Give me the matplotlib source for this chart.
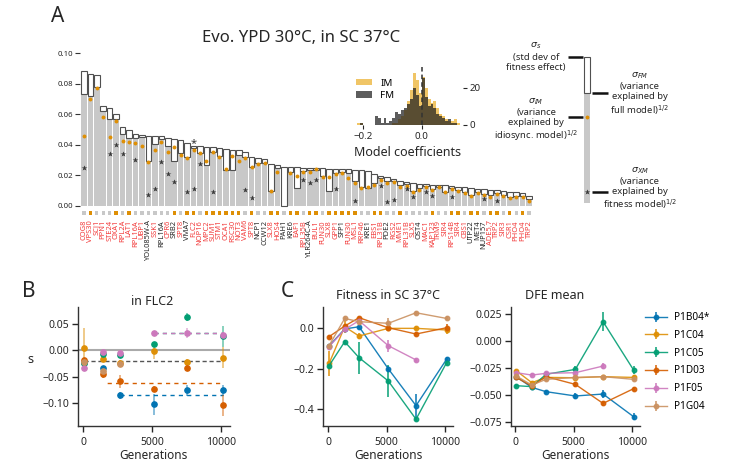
import numpy as np
import matplotlib
matplotlib.use("Agg")
import matplotlib.pyplot as plt
from matplotlib.colors import to_rgba
from matplotlib.patches import Patch

plt.rcParams["font.family"] = ["Noto Sans", "DejaVu Sans"]
plt.rcParams["mathtext.fontset"] = "dejavusans"

nan = np.nan

# ---------------- panel A: per-gene fitness-effect decomposition ----------------
genes = ["COG8", "VPS30", "SCJ1", "PPN1", "STE24", "OXA1", "RPL2A", "LAT1", "RPL16A", "UBP1",
         "YOL085W-A", "SSK1", "RPL16A", "CPR6", "SRB2", "SPT8", "VMA7", "FLC2", "NOP16", "MPC2",
         "SUM1", "STM1", "OCA1", "RSC30", "NOT3", "VAM6", "SPT8", "NCP1", "CCW12", "SLX8",
         "HOS4", "PAH1", "KRE6", "EAF1", "RPL35B", "YLR264C-A", "BUL1", "FUN30", "SLX8", "GPP1",
         "SFP1", "FUN30", "MSL1", "RRP46", "KRE1", "EBS1", "RPL31B", "PDE2", "RGS2", "MME1",
         "RPL31B", "SLX5", "OST4", "MAC1", "KAP123", "TRM9", "SIR4", "RPS14B", "SIR4", "CBS1",
         "UTP22", "MET4", "NUP157", "ADE5,7", "TRP2", "SIR3", "CSR1", "PHO4", "PHO4", "TRP2"]
black_label_idx = [10, 12, 14, 16, 27, 28, 31, 32, 35, 40, 44, 47, 52, 60, 61, 62]

sigma_s = [0.0885, 0.0863, 0.0858, 0.0656, 0.0643, 0.0599, 0.0514, 0.0495, 0.0468, 0.0462,
           0.0460, 0.0458, 0.0458, 0.0444, 0.0440, 0.0429, 0.0412, 0.0394, 0.0392, 0.0388,
           0.0386, 0.0379, 0.0373, 0.0368, 0.0366, 0.0351, 0.0322, 0.0314, 0.0305, 0.0275,
           0.0270, 0.0257, 0.0253, 0.0253, 0.0250, 0.0250, 0.0246, 0.0246, 0.0244, 0.0242,
           0.0240, 0.0240, 0.0235, 0.0235, 0.0231, 0.0207, 0.0195, 0.0190, 0.0175, 0.0165,
           0.0155, 0.0150, 0.0145, 0.0142, 0.0138, 0.0135, 0.0133, 0.0128, 0.0125, 0.0120,
           0.0118, 0.0113, 0.0110, 0.0105, 0.0102, 0.0098, 0.0093, 0.0088, 0.0082, 0.0065]
sigma_fm = [0.0730, 0.0720, 0.0780, 0.0620, 0.0569, 0.0569, 0.0468, 0.0442, 0.0447, 0.0449,
            0.0292, 0.0405, 0.0436, 0.0394, 0.0290, 0.0344, 0.0318, 0.0379, 0.0344, 0.0268,
            0.0355, 0.0327, 0.0235, 0.0235, 0.0333, 0.0322, 0.0257, 0.0279, 0.0279, 0.0098,
            0.0246, 0.0000, 0.0224, 0.0115, 0.0231, 0.0235, 0.0235, 0.0192, 0.0094, 0.0213,
            0.0224, 0.0213, 0.0159, 0.0126, 0.0115, 0.0148, 0.0180, 0.0160, 0.0160, 0.0135,
            0.0140, 0.0095, 0.0115, 0.0128, 0.0110, 0.0125, 0.0092, 0.0115, 0.0105, 0.0088,
            0.0070, 0.0088, 0.0078, 0.0068, 0.0085, 0.0072, 0.0058, 0.0065, 0.0065, 0.0045]
sigma_im = [0.0460, 0.0700, 0.0773, 0.0580, 0.0451, 0.0556, 0.0425, 0.0416, 0.0410, 0.0390,
            0.0285, 0.0366, 0.0420, 0.0350, 0.0388, 0.0333, 0.0312, 0.0362, 0.0346, 0.0294,
            0.0349, 0.0322, 0.0242, 0.0327, 0.0290, 0.0312, 0.0257, 0.0272, 0.0283, 0.0098,
            0.0220, nan, 0.0213, 0.0198, 0.0224, 0.0222, 0.0240, 0.0187, 0.0187, 0.0207,
            0.0213, 0.0180, 0.0148, 0.0118, 0.0126, 0.0137, 0.0166, 0.0148, 0.0155, 0.0126,
            0.0130, 0.0087, 0.0105, 0.0122, 0.0105, 0.0122, 0.0087, 0.0110, 0.0100, 0.0083,
            0.0065, 0.0083, 0.0070, 0.0060, 0.0078, 0.0065, 0.0050, 0.0057, 0.0057, 0.0030]
sigma_xm = [0.0250, nan, nan, nan, 0.0338, 0.0400, 0.0338, nan, 0.0300, nan,
            0.0070, 0.0110, 0.0285, 0.0211, 0.0155, nan, 0.0087, 0.0109, 0.0275, nan,
            0.0087, nan, nan, nan, nan, 0.0102, 0.0050, nan, nan, nan,
            nan, nan, nan, nan, 0.0166, 0.0150, 0.0168, nan, nan, 0.0109,
            nan, nan, 0.0030, nan, nan, nan, 0.0130, 0.0024, 0.0040, nan,
            0.0113, 0.0060, nan, 0.0090, 0.0065, nan, nan, 0.0057, nan, nan,
            nan, nan, 0.0042, nan, 0.0033, nan, nan, nan, nan, nan]
im_better = [0, 1, 0, 0, 0, 1, 0, 1, 0, 0, 0, 0, 0, 0, 1, 0, 1,
             1, 0, 1, 1, 1, 1, 1, 1, 0, 1,
             0, 0, 1, 1, 0, 1, 1, 0, 1, 1, 0, 1, 1, 1, 1, 1, 0, 0, 1,
             1, 0, 0, 1,
             0, 0, 0, 0, 1, 0, 0, 1, 1, 0, 1, 1, 0, 1, 1,
             0, 1, 0, 1, 0]
starred_gene = 17  # FLC2

# inset histogram of model coefficients
coef_edges = np.round(np.arange(-0.23, 0.145, 0.01), 2)
im_counts = [0, 1, 1, 0, 0, 0, 0, 0, 0, 0, 0, 0, 0, 1, 1, 3, 5, 8, 13, 19, 28, 24, 17,
             26, 20, 14, 12, 13, 9, 6, 5, 3, 2, 2, 3, 1, 0]
fm_counts = [0, 0, 1, 0, 0, 0, 0, 5, 4, 1, 4, 1, 2, 4, 7, 6, 8, 9, 11, 14, 20, 16, 10,
             25, 15, 10, 11, 9, 6, 5, 4, 2, 3, 1, 1, 0, 0]

# schematic legend bar
demo_s, demo_fm, demo_im, demo_xm = 0.0955, 0.0719, 0.0562, 0.0072

# ---------------- panels B, C: evolving populations ----------------
pops = ["P1B04*", "P1C04", "P1C05", "P1D03", "P1F05", "P1G04"]
pop_colors = ["#0173b2", "#de8f05", "#029e73", "#d55e00", "#cc78bc", "#ca9161"]
gens = [70, 1410, 2640, 5150, 7530, 10150]

flc2_s = [[-0.025, -0.033, -0.085, -0.102, -0.0756, -0.076],
          [0.004, -0.0175, -0.024, -0.002, -0.023, -0.014],
          [-0.025, -0.0075, -0.0094, 0.0106, 0.0625, 0.026],
          [-0.019, -0.045, -0.059, -0.0725, -0.033, -0.104],
          [-0.033, -0.003, -0.005, 0.033, 0.0325, 0.029],
          [-0.022, -0.040, -0.026, nan, nan, nan]]
flc2_err = [[0.004, 0.004, 0.007, 0.020, 0.010, 0.010],
            [0.038, 0.004, 0.006, 0.014, 0.006, 0.020],
            [0.004, 0.004, 0.004, 0.004, 0.007, 0.020],
            [0.004, 0.008, 0.012, 0.005, 0.005, 0.020],
            [0.004, 0.003, 0.004, 0.003, 0.010, 0.005],
            [0.004, 0.006, 0.004, nan, nan, nan]]
flc2_plateau = [-0.085, nan, 0.0325, -0.0625, 0.0322, nan]
flc2_plateau_from = [2640, nan, 5150, 1410, 5150, nan]
flc2_ancestor = -0.021

fit37 = [[-0.087, -0.003, 0.008, -0.200, -0.382, -0.153],
         [-0.173, 0.008, -0.038, 0.000, 0.000, -0.008],
         [-0.184, -0.066, -0.145, -0.260, -0.449, -0.170],
         [-0.041, 0.0115, 0.0527, 0.003, -0.028, 0.003],
         [-0.090, -0.005, 0.038, -0.0856, -0.156, nan],
         [-0.085, 0.049, 0.033, 0.025, 0.077, 0.049]]
fit37_err = [[0.010, 0.010, 0.010, 0.015, 0.060, 0.010],
             [0.060, 0.030, 0.015, 0.015, 0.010, 0.020],
             [0.015, 0.010, 0.080, 0.080, 0.010, 0.010],
             [0.010, 0.010, 0.010, 0.010, 0.010, 0.020],
             [0.015, 0.015, 0.015, 0.030, 0.008, nan],
             [0.010, 0.010, 0.010, 0.025, 0.010, 0.010]]

dfe_mean = [[-0.0332, -0.0432, -0.0472, -0.0512, -0.0494, -0.0705],
            [-0.0276, -0.0388, -0.0339, -0.0342, -0.0332, -0.0339],
            [-0.0416, -0.0425, -0.0310, -0.0264, 0.0180, -0.0270],
            [-0.0339, -0.0419, -0.0332, -0.0404, -0.0581, -0.0444],
            [-0.0295, -0.0317, -0.0301, -0.0295, -0.0233, nan],
            [-0.0326, -0.0410, -0.0357, -0.0339, -0.0332, -0.0357]]
dfe_err = [[0.002, 0.002, 0.002, 0.003, 0.004, 0.003],
           [0.002, 0.002, 0.002, 0.002, 0.002, 0.002],
           [0.002, 0.002, 0.002, 0.003, 0.009, 0.004],
           [0.002, 0.002, 0.002, 0.002, 0.002, 0.002],
           [0.002, 0.002, 0.002, 0.002, 0.003, nan],
           [0.002, 0.002, 0.002, 0.002, 0.002, 0.002]]

ORANGE = "#de8f05"
GRAY = "#c8c8c8"
RED = "#f23c3c"
DARK = "#262626"

W, H = 734, 463
fig = plt.figure(figsize=(W / 100, H / 100), dpi=100)


def add_axes_px(x0, y0, x1, y1):
    return fig.add_axes([x0 / W, 1 - y1 / H, (x1 - x0) / W, (y1 - y0) / H])


def minus(txt):
    return txt.replace("-", "\u2212")


# ---- panel A ----
axA = add_axes_px(80, 50, 533, 218)
x = np.arange(len(genes))
s_arr = np.array(sigma_s)
fm_arr = np.array(sigma_fm)
axA.bar(x, fm_arr, width=0.86, color=GRAY, linewidth=0, zorder=1)
axA.bar(x, s_arr - fm_arr, bottom=fm_arr, width=0.86, facecolor="white",
        edgecolor="#505050", linewidth=0.8, zorder=2)
axA.plot(x, sigma_im, "o", ms=2.8, color=ORANGE, mec="none", zorder=3)
axA.plot(x, sigma_xm, "*", ms=3.8, color="#3a3a3a", mec="none", zorder=3)
sq_colors = [ORANGE if v else GRAY for v in im_better]
axA.scatter(x, np.full(len(x), -0.0046), marker="s", s=6, c=sq_colors, linewidths=0, zorder=3)
axA.text(starred_gene, sigma_s[starred_gene] + 0.0012, "*", ha="center", va="center",
         fontsize=8, color="#333333")

axA.set_xlim(-0.6, len(genes) - 0.4)
axA.set_ylim(-0.008, 0.102)
axA.set_xticks(x)
axA.set_xticklabels(genes, rotation=90, fontsize=5.4)
for i, lab in enumerate(axA.get_xticklabels()):
    lab.set_color(DARK if i in black_label_idx else RED)
axA.tick_params(axis="x", length=0, pad=1.5)
yt = [0, 0.02, 0.04, 0.06, 0.08, 0.10]
axA.set_yticks(yt)
axA.set_yticklabels([f"{v:.2f}" for v in yt], fontsize=5.6, color=DARK)
axA.tick_params(axis="y", length=3.5, width=0.8, pad=1.5, color="#333333")
for sp in axA.spines.values():
    sp.set_visible(False)

fig.text(301 / W, 1 - 42 / H, "Evo. YPD 30°C, in SC 37°C", ha="center", va="baseline",
         fontsize=12, color=DARK)

# inset histogram
axI = add_axes_px(352.7, 67.2, 462.8, 125)
axI.stairs(im_counts, coef_edges, fill=True, color="#e69f00", alpha=0.6, linewidth=0)
axI.stairs(fm_counts, coef_edges, fill=True, color="#1f1f1f", alpha=0.72, linewidth=0)
axI.axvline(0, color="#333333", lw=1.1, ls=(0, (3, 2)), zorder=3)
axI.set_xlim(-0.235, 0.14)
axI.set_ylim(0, 31)
axI.yaxis.tick_right()
axI.set_yticks([0, 20])
axI.set_xticks([-0.2, 0.0])
axI.set_xticklabels([minus("-0.2"), "0.0"])
axI.tick_params(labelsize=7, length=3, width=0.8, pad=2, colors=DARK)
for sp in axI.spines.values():
    sp.set_visible(False)
axI.set_xlabel("Model coefficients", fontsize=9, labelpad=4, color=DARK)
axI.legend(handles=[Patch(facecolor="#e69f00", alpha=0.6, label="IM"),
                    Patch(facecolor="#1f1f1f", alpha=0.72, label="FM")],
           loc="upper left", bbox_to_anchor=(0.03, 0.8), frameon=False, fontsize=7,
           handlelength=1.6, handleheight=0.6, handletextpad=0.9, labelspacing=0.32,
           borderaxespad=0, borderpad=0)

# schematic bar
axS = add_axes_px(500, 50, 700, 203)
axS.set_xlim(-13.5, 17.5)
axS.set_ylim(0, 0.1)
axS.axis("off")
axS.bar(0, demo_fm, width=0.9, color=GRAY, linewidth=0)
axS.bar(0, demo_s - demo_fm, bottom=demo_fm, width=0.9, facecolor="white",
        edgecolor="#505050", linewidth=0.8)
axS.plot(0, demo_im, "o", ms=2.8, color=ORANGE, mec="none")
axS.plot(0, demo_xm, "*", ms=3.8, color="#3a3a3a", mec="none")
for yv, side in [(demo_s, "L"), (demo_fm, "R"), (demo_im, "L"), (demo_xm, "R")]:
    xs = [-2.95, -0.62] if side == "L" else [0.78, 3.26]
    axS.plot(xs, [yv, yv], color="#111111", lw=1.8, solid_capstyle="butt")
tkw = dict(ha="center", va="center", fontsize=6.8, linespacing=1.15, color=DARK)
axS.text(-7.9, demo_s + 0.0004, "$\\sigma_s$\n(std dev of\nfitness effect)", **tkw)
axS.text(8.2, demo_fm - 0.0005,
         "$\\sigma_{FM}$\n(variance\nexplained by\nfull model)$^{1/2}$", **tkw)
axS.text(-7.9, demo_im - 0.0018,
         "$\\sigma_{IM}$\n(variance\nexplained by\nidiosync. model)$^{1/2}$", **tkw)
axS.text(8.2, demo_xm + 0.0026,
         "$\\sigma_{XM}$\n(variance\nexplained by\nfitness model)$^{1/2}$", **tkw)


# ---- panels B and C ----
def style_axes(ax, xlim, ylim, yticks, ydec):
    ax.set_xlim(*xlim)
    ax.set_ylim(*ylim)
    ax.set_xticks([0, 5000, 10000])
    ax.set_xticklabels(["0", "5000", "10000"])
    ax.set_yticks(yticks)
    ax.set_yticklabels([minus(f"{v:.{ydec}f}") if abs(v) > 1e-12 else f"{0:.{ydec}f}"
                        for v in yticks])
    ax.tick_params(labelsize=7.5, length=4, width=1, pad=2, colors=DARK)
    ax.tick_params(axis="x", pad=4)
    for side in ["top", "right"]:
        ax.spines[side].set_visible(False)
    for side in ["left", "bottom"]:
        ax.spines[side].set_color("#333333")
        ax.spines[side].set_linewidth(1)


axB = add_axes_px(77.7, 306.7, 230, 425.7)
axB.axhline(0, color="#aaaaaa", lw=1.5, zorder=1)
axB.plot([gens[0], gens[-1]], [flc2_ancestor, flc2_ancestor], color="#555555", lw=1,
         ls=(0, (3, 2)), zorder=2)
for k, (lvl, start, col) in enumerate(zip(flc2_plateau, flc2_plateau_from, pop_colors)):
    if np.isnan(lvl):
        continue
    axB.plot([start, gens[-1]], [lvl, lvl], color=col, lw=1, ls=((k % 2) * 3, (3, 3)), zorder=2)
for vals, errs, col in zip(flc2_s, flc2_err, pop_colors):
    axB.errorbar(gens, vals, yerr=errs, fmt="o", ms=3.8, color=col, mec=col,
                 ecolor=to_rgba(col, 0.55), elinewidth=1.2, capsize=0, zorder=3)
style_axes(axB, (-410, 10680), (-0.1423, 0.0817), [-0.10, -0.05, 0.0, 0.05], 2)

axC1 = add_axes_px(322.7, 306.7, 453.3, 425.7)
for vals, errs, col in zip(fit37, fit37_err, pop_colors):
    axC1.errorbar(gens, vals, yerr=errs, fmt="-o", ms=3.2, lw=1, color=col,
                  elinewidth=1.2, capsize=0, alpha=0.9)
style_axes(axC1, (-480, 10730), (-0.481, 0.107), [-0.4, -0.2, 0.0], 1)

axC2 = add_axes_px(510.7, 306.7, 640, 425.7)
handles = []
for vals, errs, col in zip(dfe_mean, dfe_err, pop_colors):
    h = axC2.errorbar(gens, vals, yerr=errs, fmt="-o", ms=3.2, lw=1, color=col,
                      elinewidth=1.2, capsize=0, alpha=0.9)
    handles.append(h)
style_axes(axC2, (-400, 10700), (-0.0789, 0.032), [-0.075, -0.05, -0.025, 0.0, 0.025], 3)

fig.legend(handles, pops, loc="upper left", bbox_to_anchor=(645 / W, 1 - 312 / H),
           frameon=False, fontsize=7.2, handlelength=2.2, handletextpad=0.7,
           labelspacing=0.68, borderaxespad=0, borderpad=0)

# titles and labels
fig.text(151.7 / W, 1 - 305 / H, "in FLC2", ha="center", va="baseline", fontsize=9, color=DARK)
fig.text(388 / W, 1 - 299 / H, "Fitness in SC 37°C", ha="center", va="baseline",
         fontsize=9, color=DARK)
fig.text(555 / W, 1 - 299 / H, "DFE mean", ha="center", va="baseline", fontsize=9, color=DARK)
for cx in [153.9, 388, 575.4]:
    fig.text(cx / W, 1 - 459 / H, "Generations", ha="center", va="baseline", fontsize=8.5,
             color=DARK)
fig.text(30.5 / W, 1 - 363 / H, "s", ha="center", va="baseline", fontsize=9, color=DARK)

fig.text(58 / W, 1 - 22 / H, "A", ha="center", va="baseline", fontsize=15, color=DARK)
fig.text(29 / W, 1 - 297 / H, "B", ha="center", va="baseline", fontsize=15, color=DARK)
fig.text(287 / W, 1 - 297 / H, "C", ha="center", va="baseline", fontsize=15, color=DARK)

fig.savefig("out.png", dpi=100)
